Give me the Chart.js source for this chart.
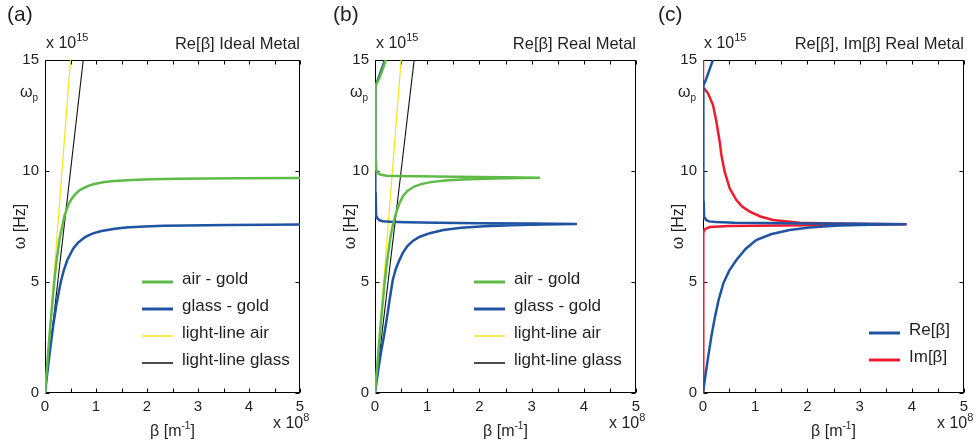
<!DOCTYPE html>
<html>
<head>
<meta charset="utf-8">
<script src="https://cdn.jsdelivr.net/npm/chart.js@4.4.0/dist/chart.umd.min.js"></script>
<style>
  body { margin: 0; background: #fff; }
  #wrap { position: relative; width: 977px; height: 446px; overflow: hidden; }
  canvas { position: absolute; top: 0; }
</style>
</head>
<body>
<div id="wrap">
  <canvas id="panelA" width="320" height="446" style="left:0px"></canvas>
  <canvas id="panelB" width="330" height="446" style="left:320px"></canvas>
  <canvas id="panelC" width="327" height="446" style="left:650px"></canvas>
</div>
<script>
// beta in 1e8 1/m, omega in 1e15 Hz
const omegaP = 13.75;
const xTickVals = [0, 0.5, 1, 1.5, 2, 2.5, 3, 3.5, 4, 4.5, 5];
const yTickVals = [0, 5, 10, 15];
const titles = ['Re[β] Ideal Metal', 'Re[β] Real Metal', 'Re[β], Im[β] Real Metal'];
const metalNames = ['air - gold', 'glass - gold', 'light-line air', 'light-line glass'];
const betaNames = ['Re[β]', 'Im[β]'];

// light lines
const lightAirBeta = [0, 0.5];
const lightAirOmega = [0, 15];
const lightGlassBeta = [0, 0.75];
const lightGlassOmega = [0, 15];

// (a) ideal metal
const idealAirBeta = [0, 0.033, 0.103, 0.181, 0.229, 0.29, 0.384, 0.463, 0.523, 0.611, 0.691, 0.813, 0.943, 1.166, 1.36, 1.70, 2.10, 2.60, 3.80, 5.0];
const idealAirOmega = [0, 1, 3, 5, 6, 7, 8, 8.5, 8.75, 9, 9.15, 9.3, 9.4, 9.5, 9.55, 9.6, 9.63, 9.65, 9.67, 9.68];
const idealGlassBeta = [0, 0.050, 0.103, 0.159, 0.225, 0.309, 0.365, 0.44, 0.552, 0.639, 0.773, 0.852, 0.957, 1.11, 1.37, 1.58, 1.95, 2.33, 2.77, 3.59, 4.43, 5.0];
const idealGlassOmega = [0, 1, 2, 3, 4, 5, 5.5, 6, 6.5, 6.75, 7, 7.1, 7.2, 7.3, 7.4, 7.45, 7.5, 7.53, 7.55, 7.57, 7.58, 7.585];

// (b) real metal
const realAirBeta = [0, 0.034, 0.07, 0.105, 0.145, 0.185, 0.235, 0.295, 0.335, 0.39, 0.46, 0.53, 0.62, 0.75, 0.9, 1.1, 1.4, 1.8, 2.3, 2.8, 3.16,
  2.5, 1.5, 0.8, 0.4, 0.22, 0.1, 0.05, 0.025, 0.015, 0.01, 0.005, 0,
  0.015, 0.045, 0.085, 0.12, 0.15, 0.18, 0.205];
const realAirOmega = [0, 1, 2, 3, 4, 5, 6, 7, 7.5, 8, 8.5, 8.85, 9.1, 9.3, 9.42, 9.51, 9.58, 9.63, 9.66, 9.68, 9.70,
  9.72, 9.74, 9.76, 9.78, 9.79, 9.84, 9.93, 10.05, 10.5, 12, 13.3, 13.75,
  13.85, 14.0, 14.2, 14.4, 14.6, 14.8, 15];
const realGlassBeta = [0, 0.06, 0.12, 0.17, 0.23, 0.28, 0.34, 0.4, 0.46, 0.53, 0.62, 0.73, 0.86, 1.05, 1.31, 1.65, 2.1, 2.6, 3.2, 3.87,
  3.0, 2.0, 1.2, 0.6, 0.3, 0.15, 0.09, 0.05, 0.03, 0.02, 0.013, 0.008, 0.004, 0,
  0.015, 0.045, 0.085, 0.13, 0.19];
const realGlassOmega = [0, 1, 1.9, 2.54, 3.4, 4.2, 5.09, 5.6, 5.95, 6.3, 6.62, 6.86, 7.04, 7.2, 7.34, 7.44, 7.51, 7.56, 7.59, 7.61,
  7.63, 7.65, 7.67, 7.69, 7.71, 7.74, 7.78, 7.85, 7.95, 8.2, 9, 11, 13.2, 13.75,
  13.85, 14.05, 14.3, 14.6, 15];

// (c) real and imaginary parts, glass - gold
const reBeta = [0, 0.05, 0.1, 0.16, 0.23, 0.3, 0.39, 0.5, 0.64, 0.82, 1.02, 1.3, 1.66, 2.04, 2.6, 3.2, 3.9,
  3.0, 2.0, 1.2, 0.6, 0.25, 0.12, 0.065, 0.035, 0.02, 0.013, 0.01, 0.007, 0.003, 0,
  0.015, 0.045, 0.085, 0.13, 0.19];
const reOmega = [0, 0.85, 1.64, 2.55, 3.44, 4.2, 4.94, 5.5, 5.99, 6.5, 6.89, 7.15, 7.34, 7.46, 7.54, 7.58, 7.6,
  7.62, 7.64, 7.655, 7.67, 7.7, 7.73, 7.78, 7.88, 8.1, 8.6, 10, 12, 13.4, 13.75,
  13.85, 14.05, 14.3, 14.6, 15];
const imBeta = [0, 0.002, 0.004, 0.01, 0.03, 0.13, 0.5, 1.5, 2.5, 3.2, 3.9,
  3.2, 2.5, 1.85, 1.34, 1.1, 0.895, 0.75, 0.64, 0.511, 0.415, 0.352, 0.32, 0.257, 0.192, 0.096, 0.03, 0, 0];
const imOmega = [0, 5, 6.9, 7.2, 7.37, 7.48, 7.52, 7.55, 7.57, 7.585, 7.6,
  7.61, 7.63, 7.67, 7.79, 7.95, 8.17, 8.4, 8.69, 9.22, 9.97, 10.72, 11.32, 12.22, 12.97, 13.5, 13.7, 13.75, 15];

const FONT = '"Liberation Sans", Arial, sans-serif';
const INK = '#231f20';
const GREEN = '#5dbb46', BLUE = '#1f53a3', YELLOW = '#f2e51a', BLACK = '#111111', RED = '#ec1c2e';

function pts(bs, ws) {
  return bs.map((b, i) => ({ x: b, y: ws[i] }));
}

function line(label, bs, ws, color, width) {
  return { label, data: pts(bs, ws), borderColor: color, borderWidth: width,
    showLine: true, pointRadius: 0, fill: false, tension: 0 };
}

// draws text pieces side by side (used for superscripts)
function runs(ctx, parts, x, y, align) {
  let w = 0;
  parts.forEach(p => { ctx.font = p.size + 'px ' + FONT; p.w = ctx.measureText(p.text).width; w += p.w; });
  let cx = align === 'center' ? x - w / 2 : align === 'right' ? x - w : x;
  ctx.textAlign = 'left';
  parts.forEach(p => { ctx.font = p.size + 'px ' + FONT; ctx.fillText(p.text, cx, y + (p.dy || 0)); cx += p.w; });
}

const panelDecor = {
  id: 'panelDecor',
  beforeDatasetsDraw(chart, args, o) {
    const { ctx, chartArea: a, scales: { x, y } } = chart;
    const L = Math.round(a.left) + 0.5, R = Math.round(a.right) - 0.5;
    const T = Math.round(a.top) + 0.5, B = Math.round(a.bottom) - 0.5;
    ctx.save();
    ctx.strokeStyle = '#000';
    ctx.lineWidth = 1;
    ctx.strokeRect(L, T, R - L, B - T);
    ctx.beginPath();
    xTickVals.forEach(v => {
      const px = Math.round(x.getPixelForValue(v)) + 0.5;
      ctx.moveTo(px, B); ctx.lineTo(px, B - 4);
      ctx.moveTo(px, T); ctx.lineTo(px, T + 4);
    });
    yTickVals.forEach(v => {
      const py = Math.round(y.getPixelForValue(v)) + 0.5;
      ctx.moveTo(L, py); ctx.lineTo(L + 4, py);
      ctx.moveTo(R, py); ctx.lineTo(R - 4, py);
    });
    ctx.stroke();
    ctx.restore();
  },
  afterDraw(chart, args, o) {
    const { ctx, chartArea: a, scales: { y } } = chart;
    ctx.save();
    ctx.fillStyle = INK;
    ctx.textBaseline = 'alphabetic';

    ctx.font = '21px ' + FONT;
    ctx.textAlign = 'left';
    ctx.fillText(o.letter, o.letterX, 21);

    runs(ctx, [{ text: 'x 10', size: 16 }, { text: '15', size: 11, dy: -7 }], a.left + 1, 48, 'left');

    ctx.font = '16.5px ' + FONT;
    ctx.textAlign = 'right';
    ctx.fillText(o.title, a.right, 49);

    // plasma frequency mark
    const wy = y.getPixelForValue(omegaP);
    runs(ctx, [{ text: 'ω', size: 16 }, { text: 'p', size: 10, dy: 4 }], a.left - 7, wy + 9, 'right');

    runs(ctx, [{ text: 'β [m', size: 16 }, { text: '-1', size: 10, dy: -7 }, { text: ']', size: 16 }],
      (a.left + a.right) / 2, 436, 'center');
    runs(ctx, [{ text: 'x 10', size: 16 }, { text: '8', size: 11, dy: -7 }], a.right - 27, 428, 'left');

    ctx.save();
    ctx.translate(a.left - 24, (a.top + a.bottom) / 2);
    ctx.rotate(-Math.PI / 2);
    ctx.font = '16px ' + FONT;
    ctx.textAlign = 'center';
    ctx.textBaseline = 'middle';
    ctx.fillText('ω [Hz]', 0, 0);
    ctx.restore();

    // legend
    chart.data.datasets.forEach((ds, i) => {
      const ry = o.legend.rows[i];
      ctx.strokeStyle = ds.borderColor;
      ctx.lineWidth = ds.borderWidth > 2 ? 3 : 1.5;
      ctx.beginPath();
      ctx.moveTo(o.legend.x, ry);
      ctx.lineTo(o.legend.x + 31, ry);
      ctx.stroke();
      ctx.fillStyle = INK;
      ctx.font = '17px ' + FONT;
      ctx.textAlign = 'left';
      ctx.fillText(ds.label, o.legend.x + 40, ry + 2);
    });
    ctx.restore();
  }
};

function makePanel(id, datasets, decor, padL, padR) {
  new Chart(document.getElementById(id), {
    type: 'scatter',
    data: { datasets },
    options: {
      responsive: false,
      animation: false,
      devicePixelRatio: 1,
      layout: { padding: { left: 0, right: padR, top: 60, bottom: 0 } },
      plugins: { legend: { display: false }, tooltip: { enabled: false }, panelDecor: decor },
      scales: {
        x: {
          type: 'linear', min: 0, max: 5,
          afterBuildTicks(s) { s.ticks = xTickVals.map(v => ({ value: v })); },
          afterFit(s) { s.height = 53; },
          grid: { display: false, drawTicks: false },
          border: { display: false },
          ticks: {
            autoSkip: false, maxRotation: 0, padding: 5, color: INK,
            font: { family: FONT, size: 15 },
            callback: v => Number.isInteger(v) ? String(v) : ''
          }
        },
        y: {
          type: 'linear', min: 0, max: 15,
          afterBuildTicks(s) { s.ticks = yTickVals.map(v => ({ value: v })); },
          afterFit(s) { s.width = padL; },
          grid: { display: false, drawTicks: false },
          border: { display: false },
          ticks: { padding: 6, color: INK, font: { family: FONT, size: 15 } }
        }
      }
    },
    plugins: [panelDecor]
  });
}

makePanel('panelA', [
  line(metalNames[0], idealAirBeta, idealAirOmega, GREEN, 2.5),
  line(metalNames[1], idealGlassBeta, idealGlassOmega, BLUE, 2.5),
  line(metalNames[2], lightAirBeta, lightAirOmega, YELLOW, 1.2),
  line(metalNames[3], lightGlassBeta, lightGlassOmega, BLACK, 1.1)
], { letter: '(a)', letterX: 7, title: titles[0], legend: { x: 142, rows: [282, 309, 336, 363] } }, 45, 20);

makePanel('panelB', [
  line(metalNames[0], realAirBeta, realAirOmega, GREEN, 2.5),
  line(metalNames[1], realGlassBeta, realGlassOmega, BLUE, 2.5),
  line(metalNames[2], lightAirBeta, lightAirOmega, YELLOW, 1.2),
  line(metalNames[3], lightGlassBeta, lightGlassOmega, BLACK, 1.1)
], { letter: '(b)', letterX: 13, title: titles[1], legend: { x: 154, rows: [282, 309, 336, 363] } }, 55, 14);

makePanel('panelC', [
  line(betaNames[0], reBeta, reOmega, BLUE, 2.5),
  line(betaNames[1], imBeta, imOmega, RED, 2.5)
], { letter: '(c)', letterX: 8, title: titles[2], legend: { x: 219, rows: [333, 360] } }, 53, 13);
</script>
</body>
</html>
